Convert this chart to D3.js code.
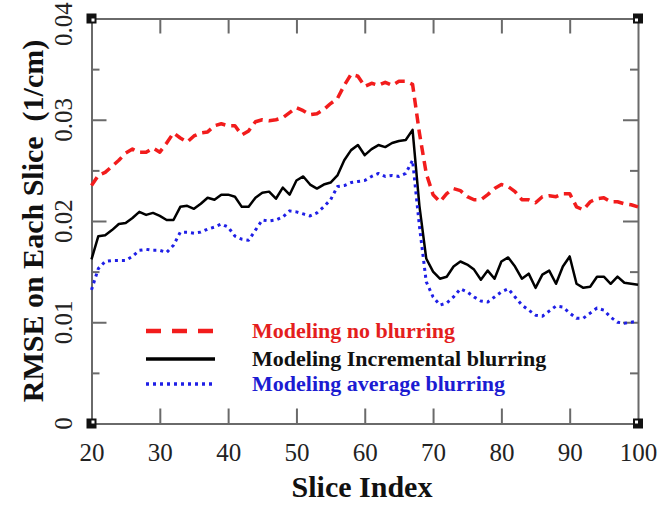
<!DOCTYPE html>
<html lang="en">
<head>
<meta charset="UTF-8">
<title>RMSE per slice</title>
<script src="https://cdn.jsdelivr.net/npm/d3@7"></script>
<style>
  body { margin: 0; background: #fff; }
  svg { display: block; }
</style>
</head>
<body>
<svg id="chart" width="668" height="506"></svg>
<script>
// slice index 20..100
var slices = d3.range(20, 101);

var noBlur = [
  .0235, .0245, .0248, .0254, .0260, .0267, .0271, .0268, .0268, .0272, .0268,
  .0277, .0287, .0282, .0278, .0284, .0287, .0288, .0294, .0296, .0294,
  .0294, .0285, .0289, .0298, .0300, .0299, .0300, .0302, .0307, .0312,
  .0309, .0305, .0306, .0310, .0316, .0321, .0334, .0345, .0343, .0333,
  .0336, .0334, .0337, .0334, .0338, .0338, .0335, .0287, .0247, .0226,
  .0219, .0227, .0232, .0230, .0224, .0221, .0221, .0226, .0232, .0236,
  .0234, .0229, .0221, .0221, .0218, .0224, .0225, .0224, .0227, .0227,
  .0214, .0211, .0219, .0222, .0223, .0219, .0219, .0217, .0216, .0214
];
var incBlur = [
  .0162, .0185, .0186, .0191, .0197, .0198, .0203, .0209, .0206, .0208, .0205,
  .0201, .0201, .0214, .0215, .0212, .0217, .0223, .0221, .0226, .0226,
  .0224, .0214, .0214, .0223, .0228, .0229, .0222, .0233, .0226, .0240,
  .0244, .0236, .0232, .0236, .0238, .0245, .0260, .0270, .0275, .0265,
  .0271, .0275, .0273, .0277, .0279, .0280, .0290, .0215, .0163, .0150,
  .0143, .0145, .0155, .0160, .0157, .0152, .0142, .0151, .0143, .0160,
  .0164, .0155, .0143, .0148, .0134, .0147, .0151, .0138, .0155, .0165,
  .0138, .0134, .0135, .0145, .0145, .0138, .0145, .0139, .0138, .0137
];
var avgBlur = [
  .0132, .0153, .0160, .0161, .0161, .0161, .0165, .0171, .0172, .0171, .0171,
  .0169, .0176, .0189, .0189, .0188, .0189, .0192, .0194, .0197, .0194,
  .0185, .0182, .0181, .0191, .0201, .0200, .0201, .0204, .0210, .0209,
  .0207, .0205, .0208, .0214, .0221, .0234, .0235, .0238, .0239, .0240,
  .0244, .0247, .0244, .0245, .0244, .0247, .0260, .0195, .0140, .0125,
  .0117, .0119, .0125, .0133, .0130, .0125, .0121, .0120, .0125, .0130,
  .0133, .0125, .0117, .0112, .0107, .0106, .0111, .0116, .0115, .0109,
  .0104, .0104, .0109, .0114, .0112, .0105, .0100, .0099, .0100, .0101
];

var xTicks = [20, 30, 40, 50, 60, 70, 80, 90, 100];
var yTicks = [0, 0.01, 0.02, 0.03, 0.04];
var yMinor = [0.005, 0.015, 0.025, 0.035];
var yTickLabels = ["0", "0.01", "0.02", "0.03", "0.04"];

var legendNames = ["Modeling no blurring", "Modeling Incremental blurring", "Modeling average blurring"];

var svg = d3.select("svg");
// plot frame (note: "top" is taken by window.top)
var plotL = 91.5, plotR = 638, plotT = 18.5, plotB = 423.5;

var x = d3.scaleLinear().domain([20, 100]).range([plotL, plotR]);
var y = d3.scaleLinear().domain([0, 0.04]).range([plotB, plotT]);

var axisColor = "#6a6a6a";
var serif = "'Liberation Serif', 'Times New Roman', serif";

function styleAxis(g) {
  g.select(".domain").attr("stroke", axisColor).attr("stroke-width", 2);
  g.selectAll(".tick line").attr("stroke", axisColor).attr("stroke-width", 2);
}

// bottom axis with labels
var gx = svg.append("g").attr("transform", "translate(0," + plotB + ")")
  .call(d3.axisBottom(x).tickValues(xTicks).tickSize(-15).tickSizeOuter(0).tickPadding(20));
styleAxis(gx);
gx.selectAll(".tick text").attr("font-family", serif).attr("font-size", 25).attr("fill", "#222");
gx.selectAll(".tick").filter(function(d) { return d == 20 || d == 100; }).select("line").remove();

// top axis
var gxt = svg.append("g").attr("transform", "translate(0," + plotT + ")")
  .call(d3.axisTop(x).tickValues(xTicks.slice(1, -1)).tickSize(-15).tickSizeOuter(0).tickFormat(""));
styleAxis(gxt);

// left & right axes, major + minor ticks
[[d3.axisLeft, plotL], [d3.axisRight, plotR]].forEach(function(a) {
  var g = svg.append("g").attr("transform", "translate(" + a[1] + ",0)")
    .call(a[0](y).tickValues(yTicks.slice(1, -1)).tickSize(-15).tickSizeOuter(0).tickFormat(""));
  styleAxis(g);
  var gm = svg.append("g").attr("transform", "translate(" + a[1] + ",0)")
    .call(a[0](y).tickValues(yMinor).tickSize(-8).tickSizeOuter(0).tickFormat(""));
  styleAxis(gm);
  gm.select(".domain").remove();
});

// rotated y tick labels
svg.append("g").selectAll("text")
  .data(yTicks)
  .enter().append("text")
  .attr("transform", function(d) {
    var cy = Math.max(y(d), 24);
    return "translate(72," + cy + ") rotate(-90)";
  })
  .attr("text-anchor", "middle")
  .attr("font-family", serif)
  .attr("font-size", 25)
  .attr("fill", "#222")
  .text(function(d, i) { return yTickLabels[i]; });

// corner markers
var corners = [[20, 0], [100, 0], [20, 0.04], [100, 0.04]];
svg.append("g").selectAll("rect")
  .data(corners)
  .enter().append("rect")
  .attr("x", function(d) { return x(d[0]) - 5; })
  .attr("y", function(d) { return y(d[1]) - 5; })
  .attr("width", 10).attr("height", 10)
  .attr("fill", "#111");
svg.append("g").selectAll("rect")
  .data(corners)
  .enter().append("rect")
  .attr("x", function(d) { return x(d[0]) + (d[0] == 20 ? 0 : -3); })
  .attr("y", function(d) { return y(d[1]) + (d[1] == 0 ? -3 : 0); })
  .attr("width", 3).attr("height", 3)
  .attr("fill", "#fff");

// series
var series = [
  { values: noBlur, color: "#f21c1c", width: 3.5, dash: "10,6", text: "#e41e1e" },
  { values: incBlur, color: "#000", width: 2.5, dash: null, text: "#111" },
  { values: avgBlur, color: "#1f1fe6", width: 3, dash: "3,4", text: "#1c1cd2" }
];

var line = d3.line()
  .x(function(d, i) { return x(slices[i]); })
  .y(function(d) { return y(d); });

svg.append("g").selectAll("path")
  .data(series)
  .enter().append("path")
  .attr("d", function(s) { return line(s.values); })
  .attr("fill", "none")
  .attr("stroke", function(s) { return s.color; })
  .attr("stroke-width", function(s) { return s.width; })
  .attr("stroke-dasharray", function(s) { return s.dash; })
  .attr("stroke-linejoin", "round");

// legend
var legendY = [331, 359, 384];
var lg = svg.append("g").selectAll("g")
  .data(series)
  .enter().append("g")
  .attr("transform", function(d, i) { return "translate(0," + legendY[i] + ")"; });
lg.append("line")
  .attr("x1", 146).attr("x2", 215)
  .attr("stroke", function(s) { return s.color; })
  .attr("stroke-width", function(s, i) { return i == 0 ? 4.5 : 3.5; })
  .attr("stroke-dasharray", function(s, i) { return i == 0 ? "15,11" : s.dash; });
lg.append("text")
  .attr("x", 252).attr("y", 7)
  .attr("font-family", serif)
  .attr("font-size", 22)
  .attr("font-weight", "bold")
  .attr("fill", function(s) { return s.text; })
  .text(function(s, i) { return legendNames[i]; });

// axis titles
svg.append("text")
  .attr("x", 362).attr("y", 497)
  .attr("text-anchor", "middle")
  .attr("font-family", serif).attr("font-size", 30).attr("font-weight", "bold")
  .attr("fill", "#111")
  .text("Slice Index");

svg.append("text")
  .attr("transform", "translate(43,221) rotate(-90)")
  .attr("text-anchor", "middle")
  .attr("font-family", serif).attr("font-size", 30).attr("font-weight", "bold")
  .attr("fill", "#111")
  .style("white-space", "pre")
  .text("RMSE on Each Slice  (1/cm)");
</script>
</body>
</html>
